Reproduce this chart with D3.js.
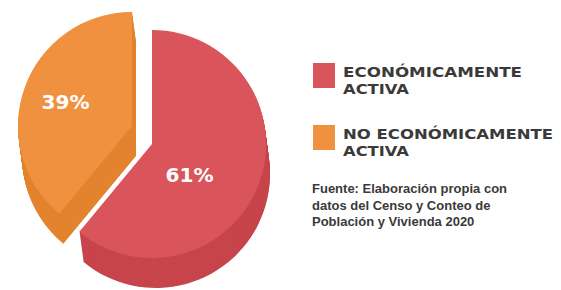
<!DOCTYPE html>
<html><head><meta charset="utf-8">
<script src="https://cdn.jsdelivr.net/npm/d3@7"></script>
<style>body{margin:0;background:#fff}svg{display:block}</style>
</head><body>
<script>
const categories = ["ECONÓMICAMENTE ACTIVA", "NO ECONÓMICAMENTE ACTIVA"];
const values = [61, 39];
const labels = ["61%", "39%"];
const legendLines = [["ECONÓMICAMENTE", "ACTIVA"], ["NO ECONÓMICAMENTE", "ACTIVA"]];
const sourceLines = ["Fuente: Elaboración propia con", "datos del Censo y Conteo de", "Población y Vivienda 2020"];

const W = 561, H = 290;
const topColors = ["#d9555b", "#f0913f"];
const sideColors = ["#c7454b", "#e3832e"];
const centers = [[152, 144], [132, 126]];
const R = 114, depth = 30, dx = 4;

const svg = d3.select("body").append("svg").attr("width", W).attr("height", H);

const pie = d3.pie().sort(null).value(d => d);
const arcs = pie(values);
const arc = d3.arc().innerRadius(0).outerRadius(R);

// draw orange (index 1) first, then red
[1, 0].forEach(i => {
  const a = arcs[i];
  const g = svg.append("g");
  for (let s = depth; s >= 1; s--) {
    g.append("path")
      .attr("d", arc(a))
      .attr("transform", `translate(${centers[i][0] + dx * s / depth},${centers[i][1] + s})`)
      .attr("fill", sideColors[i]);
  }
  g.append("path")
    .attr("d", arc(a))
    .attr("transform", `translate(${centers[i][0]},${centers[i][1]})`)
    .attr("fill", topColors[i]);
});

// labels
const labelR = [0.5, 0.62];
const labelShift = [[-16, 12], [0, 0]];
arcs.forEach((a, i) => {
  const la = d3.arc().innerRadius(R * labelR[i]).outerRadius(R * labelR[i]);
  const c = la.centroid(a);
  svg.append("text")
    .attr("x", centers[i][0] + c[0] + labelShift[i][0])
    .attr("y", centers[i][1] + c[1] + labelShift[i][1])
    .attr("text-anchor", "middle")
    .attr("dominant-baseline", "central")
    .attr("fill", "#fff")
    .attr("font-family", "DejaVu Sans")
    .attr("font-weight", "bold")
    .attr("font-size", 19)
    .attr("textLength", 48)
    .attr("lengthAdjust", "spacingAndGlyphs")
    .text(labels[i]);
});

// legend
const legY = [63, 125];
const legW = [[179, 66], [210, 66]];
categories.forEach((c, i) => {
  svg.append("rect").attr("x", 313).attr("y", legY[i]).attr("width", 22).attr("height", 25)
    .attr("fill", topColors[i]);
  legendLines[i].forEach((t, j) => {
    svg.append("text")
      .attr("x", 343).attr("y", legY[i] + 14 + j * 16.5)
      .attr("fill", "#3a3a3a")
      .attr("font-family", "DejaVu Sans")
      .attr("font-weight", "bold")
      .attr("font-size", 14)
      .attr("textLength", legW[i][j])
      .attr("lengthAdjust", "spacingAndGlyphs")
      .text(t);
  });
});

// source
sourceLines.forEach((t, j) => {
  svg.append("text")
    .attr("x", 312).attr("y", 193 + j * 16.5)
    .attr("fill", "#3a3a3a")
    .attr("font-family", "Liberation Sans, Arial, sans-serif")
    .attr("font-weight", "bold")
    .attr("font-size", 13)
    .text(t);
});
</script>
</body></html>
